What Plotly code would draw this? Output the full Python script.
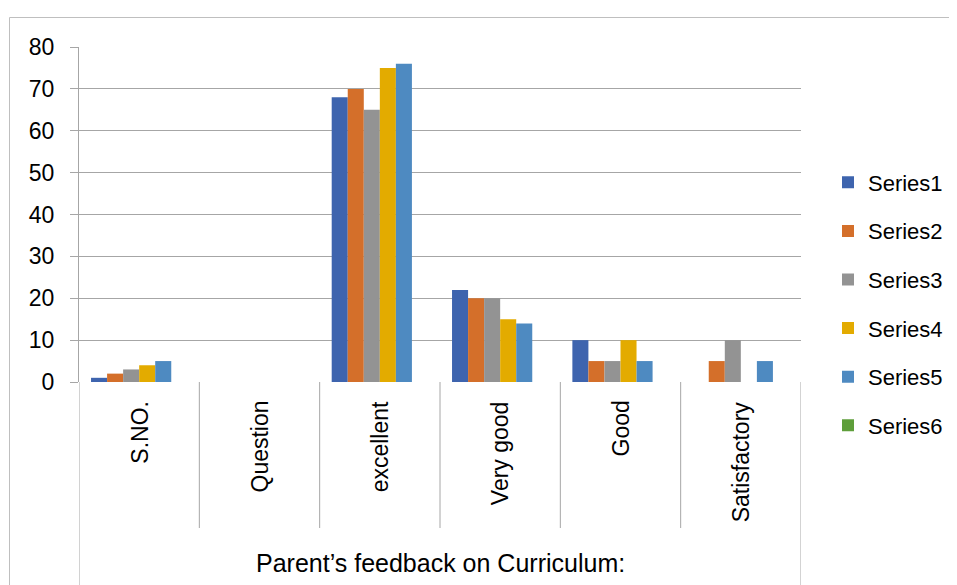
import plotly.graph_objects as go

categories = ["S.NO.", "Question", "excellent", "Very good", "Good", "Satisfactory"]
series_names = ["Series1", "Series2", "Series3", "Series4", "Series5", "Series6"]
series1 = [1, None, 68, 22, 10, None]
series2 = [2, None, 70, 20, 5, 5]
series3 = [3, None, 65, 20, 5, 10]
series4 = [4, None, 75, 15, 10, None]
series5 = [5, None, 76, 14, 5, 5]
series6 = [None, None, None, None, None, None]
group_label = "Parent’s feedback on Curriculum:"
y_ticks = [0, 10, 20, 30, 40, 50, 60, 70, 80]

colors = ["#3E64AE", "#D46F2A", "#939393", "#E3AB00", "#4E8AC1", "#5E9E3A"]
all_series = [series1, series2, series3, series4, series5, series6]

FONT = "Liberation Sans"
GRID = "#A6A6A6"

fig = go.Figure()
for name, vals, col in zip(series_names, all_series, colors):
    fig.add_trace(go.Bar(
        x=list(range(len(categories))), y=vals, name=name,
        marker=dict(color=col, line=dict(width=0)),
        legendgroup=name,
    ))

OFF = 8  # page body margin
W, H = 957 - OFF, 585 - OFF
# window-pixel targets of the plot area
PL, PR, PT, PB = 79, 801, 47, 382
L, T = PL - OFF, PT - OFF
R, B = W - (PR - OFF), H - (PB - OFF)
pw, ph = PR - PL, PB - PT

def wy(pix):
    return (PB - pix) / ph

def wx(pix):
    return (pix - PL) / pw

shapes = []
n = len(categories)
for i in range(n + 1):
    xb = i - 0.5
    bottom = -1.0 if i in (0, n) else wy(528)
    shapes.append(dict(type="line", xref="x", yref="paper", x0=xb, x1=xb,
                       y0=0, y1=bottom, line=dict(color=GRID, width=1)))
shapes.append(dict(type="rect", xref="paper", yref="paper",
                   x0=wx(9.5), x1=wx(990), y0=wy(17.5), y1=wy(620),
                   line=dict(color="#BFBFBF", width=1), fillcolor="rgba(0,0,0,0)", layer="below"))

annotations = []
for i, c in enumerate(categories):
    annotations.append(dict(x=i, y=wy(399), xref="x", yref="paper", text=c,
                            textangle=-90, showarrow=False, xanchor="center", yanchor="top",
                            font=dict(family=FONT, size=23, color="#000000")))
annotations.append(dict(x=(n - 1) / 2, y=wy(563), xref="x", yref="paper", text=group_label,
                        showarrow=False, xanchor="center", yanchor="middle",
                        font=dict(family=FONT, size=25, color="#000000")))

fig.update_layout(
    width=W, height=H,
    margin=dict(l=L, r=R, t=T, b=B, pad=0, autoexpand=False),
    paper_bgcolor="white", plot_bgcolor="white",
    barmode="group", bargap=0.2, bargroupgap=0,
    font=dict(family=FONT, size=22, color="#000000"),
    xaxis=dict(range=[-0.5, n - 0.5], showticklabels=False, showgrid=False,
               zeroline=False, showline=False, ticks=""),
    yaxis=dict(range=[0, 80], tickvals=y_ticks, showgrid=True, gridcolor=GRID, gridwidth=1,
               showline=True, linecolor=GRID, linewidth=1, ticks="outside", ticklen=8,
               tickcolor=GRID, zeroline=False, ticklabelstandoff=11,
               tickfont=dict(family=FONT, size=23, color="#000000")),
    legend=dict(x=wx(828), y=wy(304), xanchor="left", yanchor="middle",
                font=dict(family=FONT, size=22, color="#000000"),
                tracegroupgap=17, traceorder="grouped", bgcolor="rgba(0,0,0,0)"),
    shapes=shapes, annotations=annotations,
    showlegend=True,
)

fig.write_html("out.html")
